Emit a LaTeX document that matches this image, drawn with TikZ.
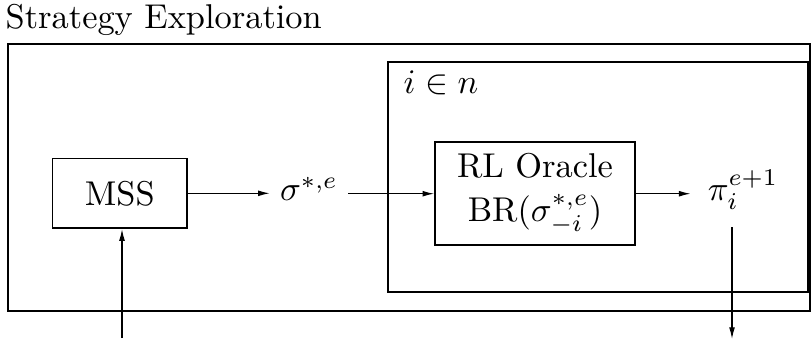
\documentclass[tikz,border=0pt]{standalone}
\usetikzlibrary{arrows.meta}
\begin{document}
\begin{tikzpicture}[x=0.2907pt,y=-0.2907pt,
  frame/.style={draw, line width=0.5pt, inner sep=0pt},
  box/.style={draw, line width=0.5pt, align=center, inner sep=0pt},
  arr/.style={line width=0.35pt, -{Latex[length=3.4pt,width=1.7pt]}},
  lbl/.style={inner sep=0pt}]
\useasboundingbox (0,0) rectangle (811,339);
% title
\node[lbl, anchor=base west] (title) at (5,28) {Strategy Exploration};
% containers
\node[frame, minimum width=233.1pt, minimum height=77.6pt] (outer) at (409,177.5) {};
\node[frame, minimum width=122.1pt, minimum height=66.9pt] (inner) at (598,177) {};
\node[lbl, anchor=base west] (iinn) at (403,93) {$i\in n$};
% boxes
\node[box, minimum width=39.2pt, minimum height=20.3pt] (mss) at (119.8,193.3) {MSS};
\node[box, minimum width=58.1pt, minimum height=29.9pt] (rl) at (535,193.7) {RL Oracle\\[1pt]BR$(\sigma^{*,e}_{-i})$};
% labels
\node[lbl, outer sep=3pt] (sig) at (309,189) {$\sigma^{*,e}$};
\node[lbl, outer sep=5pt] (pi) at (743,190) {$\pi_i^{e+1}$};
\coordinate (inb) at (122,338);
\coordinate (outb) at (732,339);
% connectors
\draw[arr] (mss.east) -- (mss.east -| sig.west);
\draw[arr] (rl.west -| sig.east) -- (rl.west);
\draw[arr] (rl.east) -- (rl.east -| pi.west);
\draw[arr] (outb |- pi.south) -- (outb);
\draw[arr] (inb) -- (inb |- mss.south);
\end{tikzpicture}
\end{document}
